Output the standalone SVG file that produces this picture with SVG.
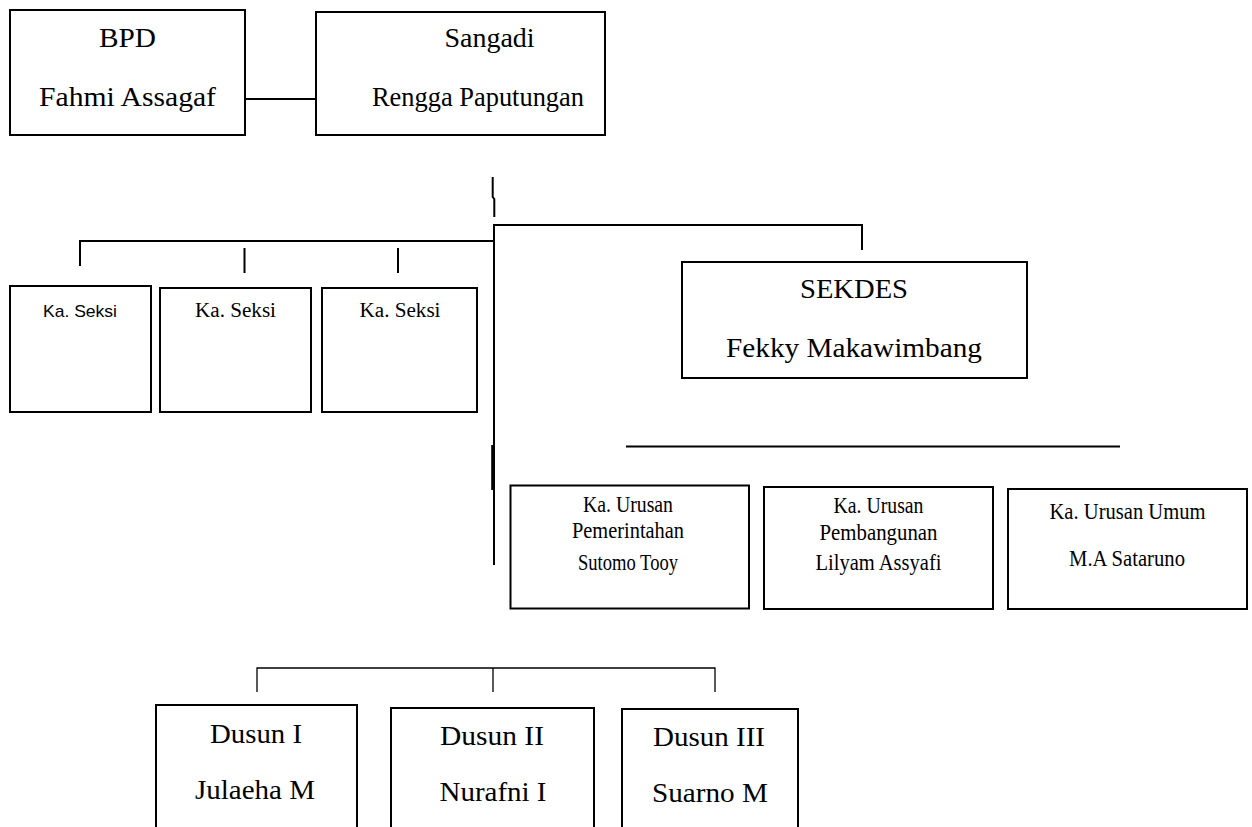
<svg xmlns="http://www.w3.org/2000/svg" width="1252" height="827" viewBox="0 0 1252 827">
<style>
.box{fill:#fff;stroke:#000;stroke-width:2}
.ln{fill:none;stroke:#000;stroke-width:2}
.thin{stroke-width:1.3}
text{font-family:"Liberation Serif","Times New Roman",Times,serif;fill:#000;text-anchor:middle}
.big{font-size:28px}
.mid{font-size:23px}
.sm{font-size:20px}
.sans{font-family:"Liberation Sans",Arial,sans-serif;font-size:17px}
</style>
<rect width="1252" height="827" fill="#fff"/>
<g id="connectors">
<line class="ln" x1="245" y1="99" x2="316" y2="99"/>
<polyline class="ln" points="492.7,177 492.7,197 494.3,199 494.3,217"/>
<polyline class="ln" points="862,250 862,225 494,225 494,565"/>
<line class="ln" x1="492.7" y1="445" x2="492.7" y2="490" style="stroke-width:3"/>
<polyline class="ln" points="80,266 80,241 494,241"/>
<line class="ln" x1="244.5" y1="248" x2="244.5" y2="273"/>
<line class="ln" x1="398" y1="248" x2="398" y2="273"/>
<line class="ln" x1="626" y1="446.5" x2="1120" y2="446.5"/>
<polyline class="ln thin" points="257,692 257,668 715,668 715,692"/>
<line class="ln thin" x1="493" y1="668" x2="493" y2="692"/>
</g>
<g id="bpd">
<rect class="box" x="10" y="10" width="235" height="125"/>
<text class="big" x="127.5" y="47" textLength="57" lengthAdjust="spacingAndGlyphs">BPD</text>
<text class="big" x="127.5" y="106" textLength="177" lengthAdjust="spacingAndGlyphs">Fahmi Assagaf</text>
</g>
<g id="sangadi">
<rect class="box" x="316" y="12" width="289" height="123"/>
<text class="big" x="489.5" y="47">Sangadi</text>
<text class="big" x="478" y="106" textLength="212" lengthAdjust="spacingAndGlyphs">Rengga Paputungan</text>
</g>
<g id="seksi1">
<rect class="box" x="10" y="286" width="141" height="126"/>
<text class="sans" x="80" y="317" textLength="74" lengthAdjust="spacingAndGlyphs">Ka. Seksi</text>
</g>
<g id="seksi2">
<rect class="box" x="160" y="288" width="151" height="124"/>
<text class="sm" x="235.5" y="317" textLength="81" lengthAdjust="spacingAndGlyphs">Ka. Seksi</text>
</g>
<g id="seksi3">
<rect class="box" x="322" y="288" width="155" height="124"/>
<text class="sm" x="400" y="317" textLength="81" lengthAdjust="spacingAndGlyphs">Ka. Seksi</text>
</g>
<g id="sekdes">
<rect class="box" x="682" y="262" width="345" height="116"/>
<text class="big" x="854" y="298" textLength="108" lengthAdjust="spacingAndGlyphs">SEKDES</text>
<text class="big" x="854" y="357" textLength="256" lengthAdjust="spacingAndGlyphs">Fekky Makawimbang</text>
</g>
<g id="urusan-pemerintahan">
<rect class="box" x="510.5" y="485.5" width="238.5" height="123"/>
<text class="mid" x="628" y="512" textLength="90" lengthAdjust="spacingAndGlyphs">Ka. Urusan</text>
<text class="mid" x="628" y="538" textLength="112" lengthAdjust="spacingAndGlyphs">Pemerintahan</text>
<text class="mid" x="628" y="570" textLength="100" lengthAdjust="spacingAndGlyphs">Sutomo Tooy</text>
</g>
<g id="urusan-pembangunan">
<rect class="box" x="764" y="487" width="229" height="122"/>
<text class="mid" x="878.5" y="512.5" textLength="90" lengthAdjust="spacingAndGlyphs">Ka. Urusan</text>
<text class="mid" x="878.5" y="540" textLength="118" lengthAdjust="spacingAndGlyphs">Pembangunan</text>
<text class="mid" x="878.5" y="570" textLength="126" lengthAdjust="spacingAndGlyphs">Lilyam Assyafi</text>
</g>
<g id="urusan-umum">
<rect class="box" x="1008" y="489" width="239" height="120"/>
<text class="mid" x="1127.5" y="519" textLength="156" lengthAdjust="spacingAndGlyphs">Ka. Urusan Umum</text>
<text class="mid" x="1127" y="566" textLength="116" lengthAdjust="spacingAndGlyphs">M.A Sataruno</text>
</g>
<g id="dusun1">
<rect class="box" x="156" y="705" width="201" height="140"/>
<text class="big" x="256" y="743" textLength="92" lengthAdjust="spacingAndGlyphs">Dusun I</text>
<text class="big" x="255" y="799" textLength="120" lengthAdjust="spacingAndGlyphs">Julaeha M</text>
</g>
<g id="dusun2">
<rect class="box" x="391" y="708" width="203" height="140"/>
<text class="big" x="492" y="745" textLength="104" lengthAdjust="spacingAndGlyphs">Dusun II</text>
<text class="big" x="493" y="801" textLength="107" lengthAdjust="spacingAndGlyphs">Nurafni I</text>
</g>
<g id="dusun3">
<rect class="box" x="622" y="709" width="176" height="140"/>
<text class="big" x="709" y="746" textLength="112" lengthAdjust="spacingAndGlyphs">Dusun III</text>
<text class="big" x="710" y="802" textLength="116" lengthAdjust="spacingAndGlyphs">Suarno M</text>
</g>
</svg>
